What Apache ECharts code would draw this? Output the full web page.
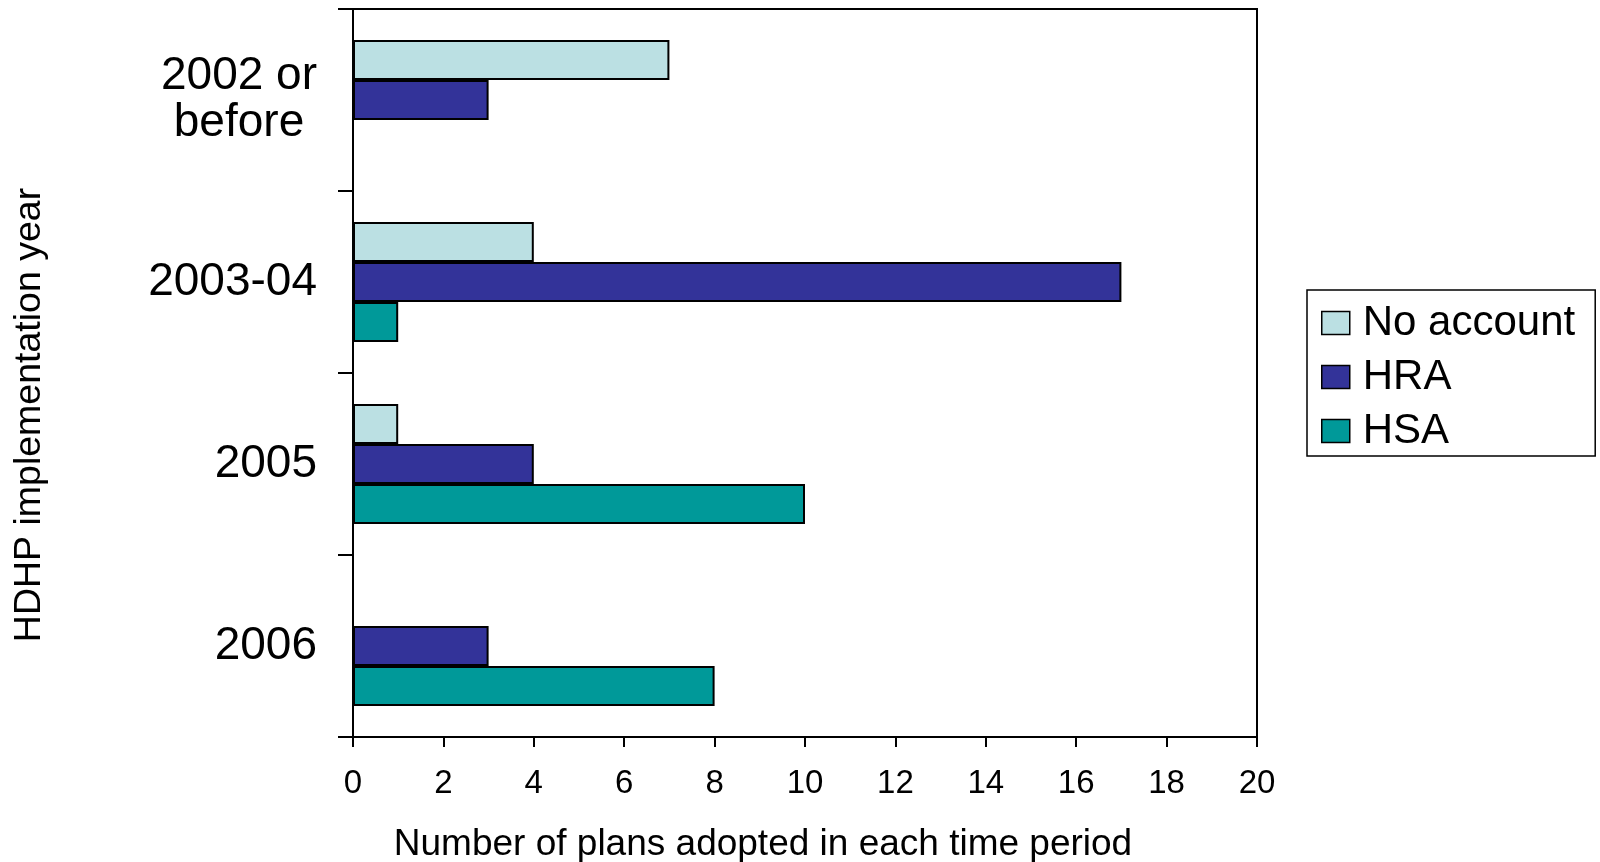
<!DOCTYPE html>
<html>
<head>
<meta charset="utf-8">
<script src="https://cdn.jsdelivr.net/npm/echarts@6/dist/echarts.min.js"></script>
<style>
  html, body { margin: 0; padding: 0; background: #fff; }
  #chart { width: 1600px; height: 862px; }
</style>
</head>
<body>
<div id="chart"></div>
<script>
// Implementation periods (top to bottom)
const periods = ['2002 or\nbefore', '2003-04', '2005', '2006'];

// Plans adopted per period, by account type
const noAccount = [7, 4, 1, null];
const hra = [3, 17, 4, 3];
const hsa = [null, 1, 10, 8];

const seriesNames = ['No account', 'HRA', 'HSA'];
const seriesColors = ['#BBE0E3', '#333399', '#009999'];
const seriesValues = [noAccount, hra, hsa];

const FONT = '"Liberation Sans", Arial, sans-serif';

const chart = echarts.init(document.getElementById('chart'), null, { renderer: 'canvas' });

const series = seriesNames.map((name, i) => ({
  name,
  type: 'bar',
  data: seriesValues[i],
  barWidth: 40,
  barGap: '0%',
  itemStyle: { color: seriesColors[i], borderColor: '#000', borderWidth: 2 },
  emphasis: { disabled: true }
}));

chart.setOption({
  animation: false,
  backgroundColor: '#fff',
  grid: {
    left: 353, right: 343, top: 9, bottom: 125,
    show: true, borderColor: '#000', borderWidth: 2, backgroundColor: 'transparent'
  },
  legend: {
    orient: 'vertical',
    left: 1307,
    top: 290,
    data: seriesNames,
    itemWidth: 28,
    itemHeight: 23,
    itemGap: 12,
    itemStyle: { borderColor: '#000', borderWidth: 1.5 },
    textStyle: { fontFamily: FONT, fontSize: 42, color: '#000', lineHeight: 42, padding: [0, 0, 0, 8] },
    borderColor: '#000',
    borderWidth: 1.5,
    padding: [12, 20, 4, 14],
    icon: 'rect',
    selectedMode: false
  },
  xAxis: {
    type: 'value',
    min: 0, max: 20, interval: 2,
    splitLine: { show: false },
    axisLine: { show: true, lineStyle: { color: '#000', width: 2 } },
    axisTick: { show: true, length: 10, lineStyle: { color: '#000', width: 2 } },
    axisLabel: { color: '#000', fontFamily: FONT, fontSize: 33, margin: 30 }
  },
  yAxis: {
    type: 'category',
    data: periods,
    inverse: true,
    axisLine: { show: true, lineStyle: { color: '#000', width: 2 } },
    axisTick: { show: true, length: 15, lineStyle: { color: '#000', width: 2 } },
    axisLabel: {
      color: '#000', fontFamily: FONT, fontSize: 46, margin: 36, lineHeight: 47,
      formatter: v => '{c|' + v + '}',
      rich: { c: { align: 'center', fontFamily: FONT, fontSize: 46, lineHeight: 47, color: '#000' } }
    }
  },
  graphic: [
    {
      type: 'text',
      x: 30, y: 415,
      rotation: Math.PI / 2,
      style: {
        text: 'HDHP implementation year',
        font: '37.5px ' + FONT,
        fill: '#000',
        align: 'center',
        verticalAlign: 'middle'
      }
    },
    {
      type: 'text',
      x: 763, y: 845,
      style: {
        text: 'Number of plans adopted in each time period',
        font: '37px ' + FONT,
        fill: '#000',
        align: 'center',
        verticalAlign: 'middle'
      }
    }
  ],
  series
});
</script>
</body>
</html>
